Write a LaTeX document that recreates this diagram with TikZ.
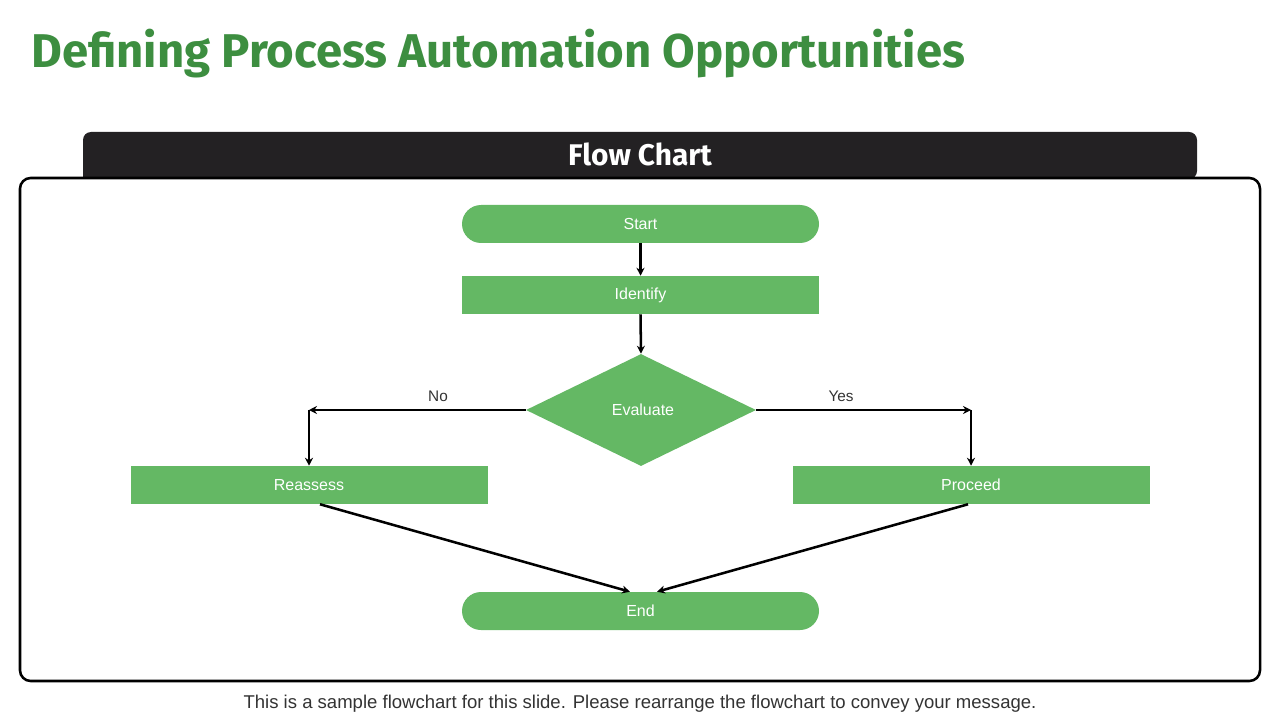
\documentclass[tikz,border=0pt]{standalone}
\usepackage{fontspec}
\setmainfont{Liberation Sans}
\newfontfamily\titlefont{Fira Sans}
\usetikzlibrary{arrows.meta,shapes.geometric}
\definecolor{titlegreen}{RGB}{61,142,64}
\definecolor{boxgreen}{RGB}{100,184,100}
\definecolor{barblack}{RGB}{35,33,35}
\definecolor{txtgray}{RGB}{51,51,51}
\begin{document}
\begin{tikzpicture}[x=0.75pt,y=-0.75pt,
  proc/.style={fill=boxgreen,draw=none,minimum width=267.75pt,minimum height=28.5pt,inner sep=0pt,text=white,font=\fontsize{12}{14}\selectfont},
  term/.style={proc,rounded corners=14.25pt},
  deci/.style={diamond,fill=boxgreen,draw=none,aspect=2.05,minimum width=172.5pt,minimum height=84pt,inner sep=0pt,text=white,font=\fontsize{12}{14}\selectfont},
  conn/.style={line width=1.9pt,-{Stealth[length=6pt,width=6pt]}},
  lbl/.style={text=txtgray,font=\fontsize{11.5}{13}\selectfont,inner sep=0pt}]
\useasboundingbox (0,0) rectangle (1280,720);
\fill[white] (0,0) rectangle (1280,720);
% title
\node[anchor=base west,inner sep=0pt,text=titlegreen,font=\titlefont\bfseries\fontsize{35.5}{40}\selectfont] (title) at (31,68) {Defining Process Automation Opportunities};
% header bar
\fill[barblack,rounded corners=6pt] (83,179) -- (83,132) -- (1197,132) -- (1197,179) [sharp corners] -- cycle;
\node[text=white,font=\titlefont\bfseries\fontsize{22.4}{26}\selectfont,inner sep=0pt] (hdr) at (640,154) {Flow Chart};
% frame
\draw[line width=1.9pt,rounded corners=8pt] (20,178) rectangle (1260,681);
% nodes
\node[term] (start) at (640.5,224) {Start};
\node[proc] (ident) at (640.5,295) {\raisebox{-1pt}{Identify}};
\node[deci] (eval) at (641,410) {};
\node[text=white,font=\fontsize{12}{14}\selectfont,inner sep=0pt] (evaltxt) at (643,410) {Evaluate};
\node[proc] (reas) at (309,485) {Reassess};
\node[proc] (proc) at (971,485) {Proceed};
\node[term] (end) at (640.5,611) {End};
\coordinate (nc) at (309,410);
\coordinate (yc) at (971,410);
% connectors
\draw[conn] (start.south) -- (ident.north);
\draw[conn] (ident.south) -- (eval.north);
\draw[conn] (eval.west) -- (nc);
\draw[conn] (nc) -- (reas.north);
\draw[conn] (eval.east) -- (yc);
\draw[conn] (yc) -- (proc.north);
\draw[conn] ([xshift=8.25pt]reas.south) -- ([xshift=-7.9pt]end.north);
\draw[conn] ([xshift=-2.25pt]proc.south) -- ([xshift=12.4pt]end.north);
% labels
\node[lbl] (no) at (438,396) {No};
\node[lbl] (yes) at (841,396) {Yes};
% footer
\node[text=txtgray,font=\fontsize{13.9}{16}\selectfont,inner sep=0pt] (foot) at (640,704) {This is a sample flowchart for this slide. Please rearrange the flowchart to convey your message.};
\end{tikzpicture}
\end{document}
